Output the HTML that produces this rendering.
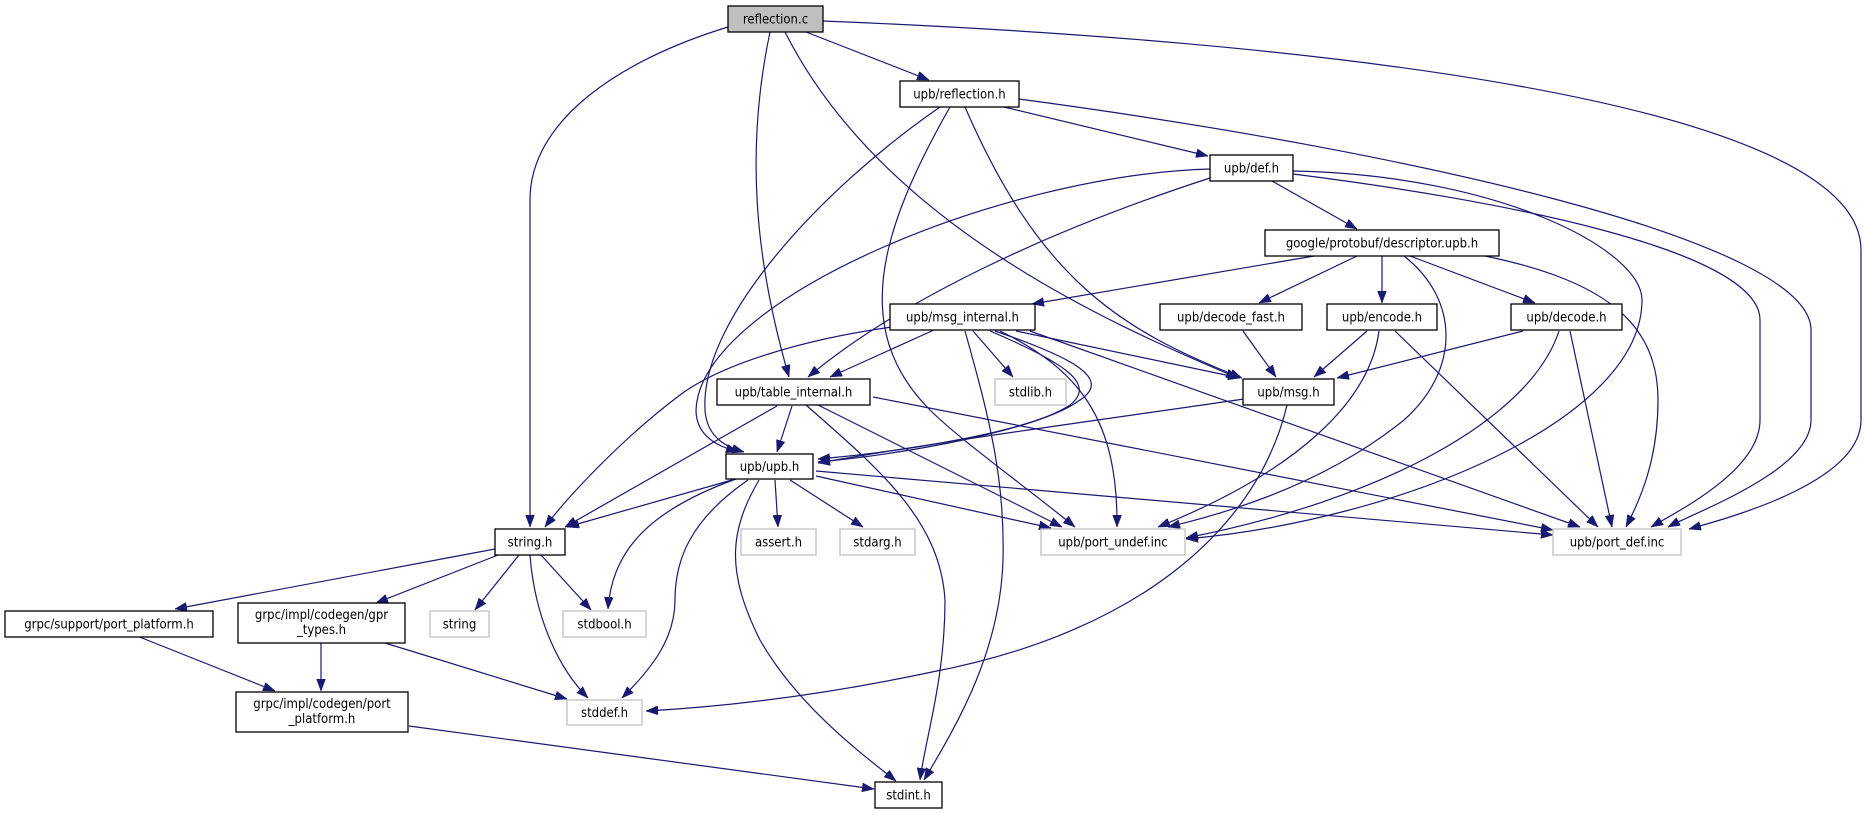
<!DOCTYPE html>
<html><head><meta charset="utf-8"><style>
html,body{margin:0;padding:0;background:#fff;}
svg{display:block;}
text{font-family:"DejaVu Sans Condensed","DejaVu Sans","Liberation Sans",sans-serif;font-size:13px;fill:#000;}
.n{fill:#fff;stroke:#000;stroke-width:1.3;}
.g{fill:#fff;stroke:#bfbfbf;stroke-width:1.3;}
.e{fill:none;stroke:#191970;stroke-width:1.2;marker-end:url(#a);}
</style></head><body>
<svg width="1864" height="813" viewBox="0 0 1864 813" xmlns="http://www.w3.org/2000/svg">
<defs><marker id="a" viewBox="0 0 12 9" refX="12" refY="4.5" markerWidth="12" markerHeight="9" markerUnits="userSpaceOnUse" orient="auto"><path d="M0,0 L12,4.5 L0,9 Z" fill="#191970" stroke="#191970" stroke-width="0.5"/></marker></defs>

<path class="e" d="M728,27 C620,60 530,120 530,200 L530,527"/>
<path class="e" d="M770,32 C745,150 755,260 789,377"/>
<path class="e" d="M785,32 C880,220 1100,320 1238,378"/>
<path class="e" d="M806,32 L929,80"/>
<path class="e" d="M823,21 C1300,40 1861,100 1861,250 L1861,420 C1861,480 1740,515 1689,529"/>
<path class="e" d="M1004,107 L1208,156"/>
<path class="e" d="M1019,99 C1400,150 1811,240 1811,330 L1811,420 C1811,470 1700,510 1668,527"/>
<path class="e" d="M940,107 C820,190 700,320 705,410 C707,440 730,448 744,452"/>
<path class="e" d="M950,107 C880,230 850,330 930,410 C960,440 1030,490 1075,527"/>
<path class="e" d="M965,107 C1040,280 1120,330 1242,378"/>
<path class="e" d="M1210,178 C1050,230 900,300 808,377"/>
<path class="e" d="M1210,169 C1000,175 700,300 696,410 C696,440 725,448 738,452"/>
<path class="e" d="M1272,181 L1357,229"/>
<path class="e" d="M1293,174 C1500,200 1760,250 1760,320 L1760,420 C1760,470 1680,510 1651,527"/>
<path class="e" d="M1293,171 C1500,175 1642,250 1642,300 C1642,420 1400,520 1186,539"/>
<path class="e" d="M1314,256 L1032,304"/>
<path class="e" d="M1357,256 L1259,303"/>
<path class="e" d="M1382,256 L1382,303"/>
<path class="e" d="M1410,256 L1535,303"/>
<path class="e" d="M1485,256 C1600,280 1658,320 1658,400 C1658,460 1640,500 1626,527"/>
<path class="e" d="M1404,256 C1460,300 1460,370 1404,420 C1330,480 1240,510 1168,527"/>
<path class="e" d="M934,330 L830,377"/>
<path class="e" d="M995,331 C1080,360 1110,380 1080,400 C1040,430 900,455 818,462"/>
<path class="e" d="M990,331 C1070,365 1095,385 1070,405 C1030,432 900,452 818,459"/>
<path class="e" d="M1016,331 L1240,378"/>
<path class="e" d="M973,331 L1013,377"/>
<path class="e" d="M965,331 C990,420 1005,480 1003,560 C1000,650 960,720 924,780"/>
<path class="e" d="M892,327 C800,340 720,365 680,395 C620,440 565,500 545,527"/>
<path class="e" d="M1030,331 L1580,527"/>
<path class="e" d="M1000,331 C1080,370 1118,420 1117,527"/>
<path class="e" d="M1243,331 L1276,377"/>
<path class="e" d="M1367,331 L1314,377"/>
<path class="e" d="M1379,331 C1370,400 1300,470 1158,527"/>
<path class="e" d="M1395,331 L1598,527"/>
<path class="e" d="M1523,331 L1337,378"/>
<path class="e" d="M1559,331 C1530,420 1380,500 1186,538"/>
<path class="e" d="M1570,331 L1612,527"/>
<path class="e" d="M1244,399 C1100,420 950,440 818,463"/>
<path class="e" d="M1287,405 C1260,520 1150,630 932,672 C800,700 700,708 646,711"/>
<path class="e" d="M792,406 L777,452"/>
<path class="e" d="M777,406 L565,527"/>
<path class="e" d="M806,405 C880,470 940,520 945,600 C945,680 925,740 920,780"/>
<path class="e" d="M818,405 L1062,527"/>
<path class="e" d="M873,397 L1553,530"/>
<path class="e" d="M732,480 L567,527"/>
<path class="e" d="M736,479 C650,510 612,550 608,609"/>
<path class="e" d="M748,480 C690,520 675,560 675,600 C675,640 650,670 622,698"/>
<path class="e" d="M759,480 C730,530 725,570 760,640 C800,710 870,760 896,781"/>
<path class="e" d="M775,480 L778,527"/>
<path class="e" d="M790,480 L863,527"/>
<path class="e" d="M816,476 L1051,528"/>
<path class="e" d="M816,471 L1553,535"/>
<path class="e" d="M495,549 L175,609"/>
<path class="e" d="M498,555 L376,603"/>
<path class="e" d="M519,555 L475,610"/>
<path class="e" d="M541,555 L591,610"/>
<path class="e" d="M530,555 C535,620 560,670 588,698"/>
<path class="e" d="M137,636 L275,691"/>
<path class="e" d="M321,643 L321,691"/>
<path class="e" d="M385,643 L567,699"/>
<path class="e" d="M409,726 L874,789"/>

<rect x="728" y="6" width="95" height="26" fill="#bfbfbf" stroke="#000" stroke-width="1.3"/><text x="775.5" y="23.5" text-anchor="middle">reflection.c</text>
<rect class="n" x="900" y="81" width="119" height="26"/><text x="959.5" y="98.5" text-anchor="middle">upb/reflection.h</text>
<rect class="n" x="1210" y="155" width="83" height="26"/><text x="1251.5" y="172.5" text-anchor="middle">upb/def.h</text>
<rect class="n" x="1265" y="230" width="234" height="26"/><text x="1382" y="247.5" text-anchor="middle">google/protobuf/descriptor.upb.h</text>
<rect class="n" x="890" y="304" width="145" height="26"/><text x="962.5" y="321.5" text-anchor="middle">upb/msg_internal.h</text>
<rect class="n" x="1160" y="304" width="142" height="26"/><text x="1231" y="321.5" text-anchor="middle">upb/decode_fast.h</text>
<rect class="n" x="1327" y="304" width="110" height="26"/><text x="1382" y="321.5" text-anchor="middle">upb/encode.h</text>
<rect class="n" x="1511" y="304" width="111" height="26"/><text x="1566.5" y="321.5" text-anchor="middle">upb/decode.h</text>
<rect class="n" x="717" y="379" width="153" height="26"/><text x="793.5" y="396.5" text-anchor="middle">upb/table_internal.h</text>
<rect class="g" x="995" y="379" width="71" height="26"/><text x="1030.5" y="396.5" text-anchor="middle">stdlib.h</text>
<rect class="n" x="1243" y="379" width="91" height="26"/><text x="1288.5" y="396.5" text-anchor="middle">upb/msg.h</text>
<rect class="n" x="726" y="454" width="87" height="25"/><text x="769.5" y="471" text-anchor="middle">upb/upb.h</text>
<rect class="n" x="495" y="529" width="70" height="26"/><text x="530" y="546.5" text-anchor="middle">string.h</text>
<rect class="g" x="741" y="529" width="75" height="26"/><text x="778.5" y="546.5" text-anchor="middle">assert.h</text>
<rect class="g" x="840" y="529" width="75" height="26"/><text x="877.5" y="546.5" text-anchor="middle">stdarg.h</text>
<rect class="g" x="1041" y="529" width="144" height="26"/><text x="1113" y="546.5" text-anchor="middle">upb/port_undef.inc</text>
<rect class="g" x="1553" y="529" width="128" height="26"/><text x="1617" y="546.5" text-anchor="middle">upb/port_def.inc</text>
<rect class="n" x="5" y="611" width="208" height="26"/><text x="109" y="628.5" text-anchor="middle">grpc/support/port_platform.h</text>
<rect class="n" x="238" y="603" width="167" height="40"/><text x="321.5" y="619" text-anchor="middle">grpc/impl/codegen/gpr</text><text x="321.5" y="634" text-anchor="middle">_types.h</text>
<rect class="g" x="430" y="611" width="59" height="26"/><text x="459.5" y="628.5" text-anchor="middle">string</text>
<rect class="g" x="563" y="611" width="83" height="26"/><text x="604.5" y="628.5" text-anchor="middle">stdbool.h</text>
<rect class="n" x="236" y="692" width="172" height="40"/><text x="322" y="708" text-anchor="middle">grpc/impl/codegen/port</text><text x="322" y="723" text-anchor="middle">_platform.h</text>
<rect class="g" x="567" y="700" width="75" height="25"/><text x="604.5" y="717" text-anchor="middle">stddef.h</text>
<rect class="n" x="875" y="782" width="67" height="26"/><text x="908.5" y="799.5" text-anchor="middle">stdint.h</text>
</svg>
</body></html>
